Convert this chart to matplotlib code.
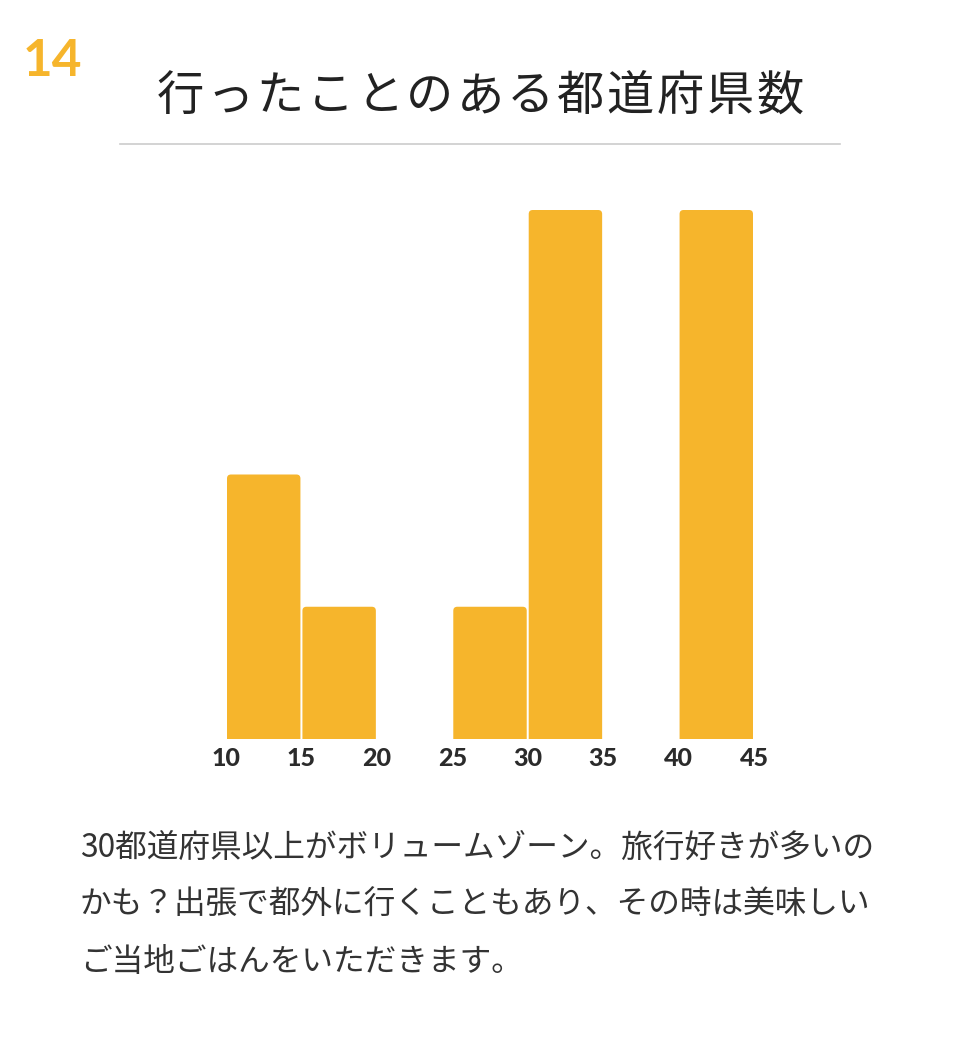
import matplotlib
matplotlib.use("Agg")
import matplotlib.pyplot as plt
from matplotlib.patches import FancyBboxPatch

# data
bin_edges = [10, 15, 20, 25, 30, 35, 40, 45]
counts = [2, 1, 0, 1, 4, 0, 4]
tick_labels = ["10", "15", "20", "25", "30", "35", "40", "45"]
title = "行ったことのある都道府県数"
number = "14"
body_lines = [
    "30都道府県以上がボリュームゾーン。旅行好きが多いの",
    "かも？出張で都外に行くこともあり、その時は美味しい",
    "ご当地ごはんをいただきます。",
]

W, H = 960, 1060
fig = plt.figure(figsize=(W / 100, H / 100), dpi=100)
fig.patch.set_facecolor("white")

cjk = ["Noto Sans CJK JP", "DejaVu Sans"]
yellow = "#F6B52C"

ax_l, ax_b, ax_w, ax_h = 226, 739, 528, 529
ax = fig.add_axes([ax_l / W, (H - ax_b) / H, ax_w / W, ax_h / H])
lefts = bin_edges[:-1]
widths = [b - a for a, b in zip(bin_edges[:-1], bin_edges[1:])]
bars = ax.bar(lefts, counts, width=widths, align="edge", color=yellow,
              edgecolor="white", linewidth=0)
ax.set_xlim(bin_edges[0], bin_edges[-1])
ax.set_ylim(0, max(counts))

# rounded top corners: replace rectangles with rounded boxes
px_x = (bin_edges[-1] - bin_edges[0]) / ax_w
px_y = max(counts) / ax_h
r_px = 4
gap_px = 1
for rect in bars:
    h = rect.get_height()
    if h <= 0:
        rect.remove()
        continue
    x0 = rect.get_x() + gap_px * px_x
    w = rect.get_width() - 2 * gap_px * px_x
    fb = FancyBboxPatch((x0, -0.1), w, h + 0.1,
                        boxstyle=f"round,pad=0,rounding_size={r_px * px_x}",
                        mutation_aspect=px_y / px_x,
                        facecolor=yellow, edgecolor="none")
    ax.add_patch(fb)
    rect.remove()

for s in ax.spines.values():
    s.set_visible(False)
ax.set_yticks([])
ax.set_xticks(bin_edges)
ax.set_xticklabels(tick_labels, fontfamily="Lato", fontweight="black",
                   fontsize=18, color="#2b2b2b")
ax.tick_params(axis="x", length=0, pad=6)

# number badge
fig.text(23 / W, 1 - 61 / H, number, fontfamily="Lato", fontweight="bold",
         fontsize=37, color=yellow, ha="left", va="center")

# title with letter spacing
pitch = 50
n = len(title)
for i, ch in enumerate(title):
    cx = 480 + (i - (n - 1) / 2) * pitch
    fig.text(cx / W, 1 - 97 / H, ch, fontfamily=cjk, fontsize=34,
             color="#222222", ha="center", va="center")
fig.add_artist(plt.Line2D([120 / W, 840 / W], [1 - 144 / H, 1 - 144 / H],
                          color="#cccccc", linewidth=1.2))

for i, line in enumerate(body_lines):
    fig.text(80 / W, 1 - (848 + 57 * i) / H, line, fontfamily=cjk,
             fontsize=22.8, color="#333333", ha="left", va="center")

fig.savefig("out.png", dpi=100, facecolor="white")
